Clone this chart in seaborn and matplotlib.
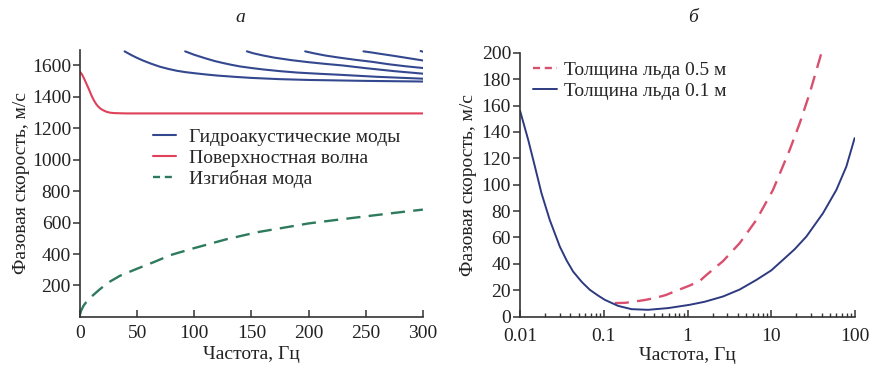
import numpy as np
import pandas as pd
import seaborn as sns
import matplotlib.pyplot as plt
from matplotlib.lines import Line2D
from matplotlib.ticker import LogLocator, NullFormatter

# --- panel a: hydroacoustic modes (frequency Hz, phase speed m/s)
mode1_f = [39, 42, 45, 50, 55, 62, 70, 78, 85, 92, 100, 110, 120, 135, 150, 175, 200, 250, 300]
mode1_c = [1690, 1678, 1666, 1648, 1632, 1612, 1592, 1577, 1566, 1558, 1551, 1543, 1536,
           1528, 1521, 1513, 1508, 1502, 1498]
mode2_f = [92, 100, 110, 118, 125, 132, 140, 150, 160, 175, 190, 210, 227, 260, 300]
mode2_c = [1690, 1668, 1645, 1628, 1616, 1605, 1594, 1584, 1575, 1564, 1555, 1547, 1541,
           1528, 1516]
mode3_f = [146, 152, 160, 170, 185, 200, 215, 230, 250, 275, 300]
mode3_c = [1690, 1677, 1664, 1650, 1634, 1621, 1610, 1600, 1583, 1564, 1548]
mode4_f = [197, 205, 215, 225, 240, 256, 270, 285, 300]
mode4_c = [1690, 1677, 1663, 1652, 1637, 1623, 1608, 1595, 1584]
mode5_f = [248, 255, 262, 274, 287, 300]
mode5_c = [1690, 1683, 1675, 1662, 1647, 1632]
mode6_f = [298, 300]
mode6_c = [1692, 1688]

# surface wave
surf_f = [0, 2, 4, 6, 8, 10, 12, 14, 16, 18, 20, 23, 26, 30, 40, 300]
surf_c = [1560, 1540, 1510, 1478, 1445, 1410, 1380, 1356, 1338, 1325, 1316, 1306, 1300,
          1297, 1295, 1295]

# flexural mode
flex_f = [0, 1, 3, 6, 9, 12, 18, 26, 35, 50, 65, 79, 99, 128, 155, 180, 200, 225, 250, 275, 300]
flex_c = [15, 40, 70, 100, 122, 142, 180, 224, 262, 307, 350, 393, 436, 494, 539, 570, 595,
          618, 640, 662, 683]

# --- panel b: flexural wave for two ice thicknesses
thin_f = [0.01, 0.0125, 0.015, 0.018, 0.0226, 0.0298, 0.036, 0.043, 0.055, 0.068, 0.085,
          0.1026, 0.148, 0.214, 0.337, 0.585, 1.06, 1.6, 2.65, 4.2, 6.65, 10.0, 13.8, 19.0,
          26.3, 41.5, 60.0, 78.9, 99.0]
thin_c = [156, 134, 114, 93.6, 73.3, 53.1, 42.5, 34.1, 26.0, 20.3, 16.0,
          12.7, 8.1, 5.6, 5.1, 6.4, 8.9, 11.2, 15.2, 20.5, 27.8, 35.0, 43.0, 51.0,
          60.7, 78.4, 96.1, 113.8, 135.3]
thick_f = [0.135, 0.18, 0.234, 0.3, 0.405, 0.55, 0.7, 1.06, 1.4, 1.68, 2.65, 4.2, 6.65,
           10.5, 16.6, 21.9, 28.8, 39.7]
thick_c = [10.2, 10.4, 11.4, 12.4, 14.0, 16.3, 19.0, 23.5, 27.0, 31.5, 42.0, 55.7, 73.3,
           96.1, 126.4, 146.7, 169.4, 199.8]

blue = '#34488f'
red = '#e0405a'
green = '#2e7a5c'
pink = '#d94f6e'
navy = '#2d3a80'
axis_col = '#333333'
text_col = '#222222'

sns.set_theme(style='ticks')
plt.rcParams['font.family'] = ['Liberation Serif', 'DejaVu Serif']
plt.rcParams['font.size'] = 14
plt.rcParams['axes.edgecolor'] = axis_col
plt.rcParams['axes.linewidth'] = 1.2

fig = plt.figure(figsize=(8.86, 3.8), dpi=100)
ax1 = fig.add_axes([0.0903, 0.166, 0.387, 0.703])
ax2 = fig.add_axes([0.587, 0.167, 0.378, 0.694])

# panel a
modes = [(mode1_f, mode1_c), (mode2_f, mode2_c), (mode3_f, mode3_c),
         (mode4_f, mode4_c), (mode5_f, mode5_c), (mode6_f, mode6_c)]
for mf, mc in modes:
    sns.lineplot(x=mf, y=mc, ax=ax1, color=blue, lw=1.5, estimator=None, sort=False)
sns.lineplot(x=surf_f, y=surf_c, ax=ax1, color=red, lw=1.5, estimator=None, sort=False)
sns.lineplot(x=flex_f, y=flex_c, ax=ax1, color=green, lw=1.7, estimator=None,
             sort=False, linestyle=(0, (6, 3.5)))

ax1.set_xlim(0, 300)
ax1.set_ylim(0, 1700)
ax1.set_xticks([0, 50, 100, 150, 200, 250, 300])
ax1.set_yticks([200, 400, 600, 800, 1000, 1200, 1400, 1600])
ax1.set_xlabel('Частота, Гц', fontsize=14, labelpad=3)
ax1.set_ylabel('Фазовая скорость, м/с', fontsize=14, labelpad=1)

h1 = [Line2D([], [], color=blue, lw=1.5),
      Line2D([], [], color=red, lw=1.5),
      Line2D([], [], color=green, lw=1.7, linestyle=(0, (3, 2)))]
ax1.legend(h1, ['Гидроакустические моды', 'Поверхностная волна', 'Изгибная мода'],
           loc='upper left', bbox_to_anchor=(0.213, 0.705), frameon=False,
           fontsize=14, handlelength=1.2, handletextpad=0.65, labelspacing=0.15,
           borderaxespad=0, borderpad=0)

# panel b
sns.lineplot(x=thick_f, y=thick_c, ax=ax2, color=pink, lw=1.7, estimator=None,
             sort=False, linestyle=(0, (6, 3.5)))
sns.lineplot(x=thin_f, y=thin_c, ax=ax2, color=navy, lw=1.4, estimator=None, sort=False)
ax2.set_xscale('log')
ax2.set_xlim(0.01, 100)
ax2.set_ylim(0, 200)
ax2.set_yticks(np.arange(0, 201, 20))
ax2.set_xticks([0.01, 0.1, 1, 10, 100])
ax2.set_xticklabels(['0.01', '0.1', '1', '10', '100'])
ax2.xaxis.set_minor_locator(LogLocator(base=10, subs=np.arange(2, 10)))
ax2.xaxis.set_minor_formatter(NullFormatter())
ax2.set_xlabel('Частота, Гц', fontsize=14, labelpad=2)
ax2.set_ylabel('Фазовая скорость, м/с', fontsize=14, labelpad=3)

h2 = [Line2D([], [], color=pink, lw=1.7, linestyle=(0, (3, 2))),
      Line2D([], [], color=navy, lw=1.4)]
ax2.legend(h2, ['Толщина льда 0.5 м', 'Толщина льда 0.1 м'],
           loc='upper left', bbox_to_anchor=(0.04, 0.967), frameon=False,
           fontsize=14, handlelength=1.2, handletextpad=0.35, labelspacing=0.15,
           borderaxespad=0, borderpad=0)

# panel letters
fig.text(240 / 886, 1 - 18 / 380, 'а', fontsize=14, style='italic', color=text_col,
         ha='center', va='center')
fig.text(693 / 886, 1 - 18 / 380, 'б', fontsize=14, style='italic', color=text_col,
         ha='center', va='center')

for ax in (ax1, ax2):
    sns.despine(ax=ax)
    ax.tick_params(axis='x', which='major', direction='in', length=5, width=1.1,
                   colors=axis_col, labelcolor=text_col, labelsize=14, pad=6)
    ax.tick_params(axis='x', which='minor', direction='in', length=3, width=1.0,
                   colors=axis_col)
    ax.tick_params(axis='y', direction='out', length=5, width=1.1, colors=axis_col,
                   labelcolor=text_col, labelsize=14, pad=1.5)
    ax.xaxis.label.set_color(text_col)
    ax.yaxis.label.set_color(text_col)
ax2.tick_params(axis='x', which='major', pad=8)

fig.savefig('out.png', dpi=100)
